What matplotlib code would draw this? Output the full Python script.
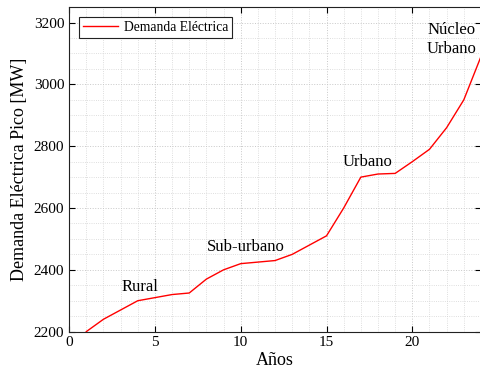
import matplotlib
matplotlib.use("Agg")
import matplotlib.pyplot as plt
from matplotlib.ticker import MultipleLocator

plt.rcParams['font.family'] = ['Liberation Serif', 'DejaVu Serif']

years = [1, 2, 3, 4, 5, 6, 7, 8, 9, 10, 11, 12, 13, 14, 15, 16, 17, 18, 19, 20, 21, 22, 23, 24]
demand = [2200, 2240, 2270, 2300, 2310, 2320, 2325, 2370, 2400, 2420, 2425, 2430, 2450, 2480,
          2510, 2600, 2700, 2710, 2712, 2750, 2790, 2860, 2950, 3090]

zone_labels = ["Rural", "Sub-urbano", "Urbano", "Núcleo\nUrbano"]
zone_x = [4.1, 10.3, 17.4, 22.3]
zone_y = [2345, 2475, 2750, 3145]

fig = plt.figure(figsize=(4.8, 3.76), dpi=100)
ax = fig.add_axes([0.144, 0.118, 0.858, 0.863])

ax.plot(years, demand, color='#ff0000', lw=1.0, label='Demanda Eléctrica')

for lbl, x, y in zip(zone_labels, zone_x, zone_y):
    ax.text(x, y, lbl, fontsize=12, ha='center', va='center', linespacing=1.2)

ax.set_xlim(0, 24)
ax.set_ylim(2200, 3250)
ax.xaxis.set_major_locator(MultipleLocator(5))
ax.xaxis.set_minor_locator(MultipleLocator(1))
ax.yaxis.set_major_locator(MultipleLocator(200))
ax.yaxis.set_minor_locator(MultipleLocator(50))

ax.grid(which='major', color='#c8c8c8', linestyle=':', linewidth=0.7)
ax.grid(which='minor', color='#d4d4d4', linestyle=':', linewidth=0.6)
ax.tick_params(which='major', direction='in', top=True, right=True, length=4, labelsize=11, width=0.8)
ax.tick_params(which='minor', length=0, top=True, right=True)
for s in ax.spines.values():
    s.set_color('#222222')
    s.set_linewidth(0.8)

ax.set_xlabel('Años', fontsize=13, labelpad=2)
ax.set_ylabel('Demanda Eléctrica Pico [MW]', fontsize=13, labelpad=4)

leg = ax.legend(loc='upper left', fontsize=9.8, fancybox=False, framealpha=1,
                edgecolor='#222222', handlelength=2.6, handletextpad=0.4,
                borderpad=0.3, borderaxespad=0.7)
leg.get_frame().set_linewidth(0.8)

fig.savefig('out.png', dpi=100)
